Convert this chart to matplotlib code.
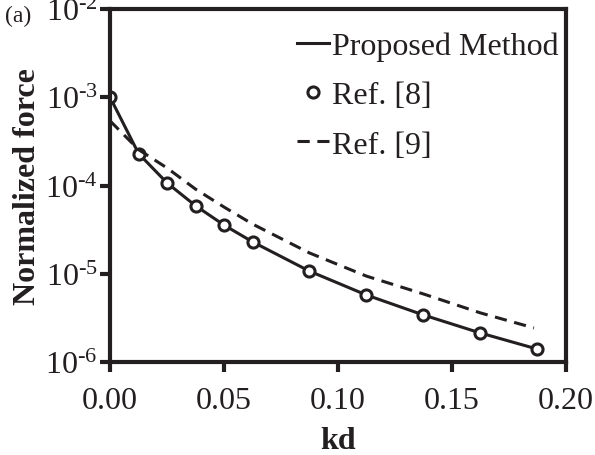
import math
import matplotlib
matplotlib.use("Agg")
import matplotlib.pyplot as plt
from matplotlib.ticker import FixedLocator, FuncFormatter, NullLocator

# -------------------------
# Data
# -------------------------
kd = [0.0, 0.0125, 0.025, 0.0375, 0.05, 0.0625, 0.0875, 0.1125, 0.1375, 0.1625, 0.1875]
proposed = [1.0e-3, 2.3e-4, 1.07e-4, 5.9e-5, 3.56e-5, 2.3e-5, 1.07e-5, 5.74e-6, 3.41e-6, 2.13e-6, 1.40e-6]
ref8 = [1.0e-3, 2.3e-4, 1.07e-4, 5.9e-5, 3.56e-5, 2.3e-5, 1.07e-5, 5.74e-6, 3.41e-6, 2.13e-6, 1.40e-6]
kd_ref9 = [0.0, 0.0125, 0.025, 0.0375, 0.05, 0.0625, 0.0875, 0.1125, 0.1375, 0.1625, 0.186]
ref9 = [5.4e-4, 2.55e-4, 1.58e-4, 9.1e-5, 5.7e-5, 3.66e-5, 1.72e-5, 9.4e-6, 5.9e-6, 3.6e-6, 2.43e-6]

xticks = [0.00, 0.05, 0.10, 0.15, 0.20]
yticks = [1e-6, 1e-5, 1e-4, 1e-3, 1e-2]

# -------------------------
# Style
# -------------------------
plt.rcParams["font.family"] = "Liberation Serif"
plt.rcParams["mathtext.fontset"] = "custom"
plt.rcParams["mathtext.rm"] = "Liberation Serif"
ink = "#231f20"


def pow_label(v, pos):
    # short hyphen in the exponent, like the original
    return r"$\mathregular{10^{\text{-}%d}}$" % abs(round(math.log10(v)))


fig = plt.figure(figsize=(5.95, 4.56), dpi=100)
ax = fig.add_axes([0.185, 0.204, 0.766, 0.774])

ax.plot(kd, proposed, color=ink, lw=2.2, label="Proposed Method")
ax.plot(kd, ref8, ls="none", marker="o", ms=8, mfc="white", mec=ink, mew=2.2,
        label="Ref. [8]")
ax.plot(kd_ref9, ref9, color=ink, lw=2.2, ls=(0, (4, 2.5)), label="Ref. [9]")

ax.set_yscale("log")
ax.set_xlim(0, 0.2)
ax.set_ylim(1e-6, 1e-2)
ax.xaxis.set_major_locator(FixedLocator(xticks))
ax.xaxis.set_major_formatter(FuncFormatter(lambda v, p: f"{v:.2f}"))
ax.yaxis.set_major_locator(FixedLocator(yticks))
ax.yaxis.set_minor_locator(NullLocator())
ax.yaxis.set_major_formatter(FuncFormatter(pow_label))

for s in ax.spines.values():
    s.set_linewidth(3)
    s.set_color(ink)
ax.tick_params(axis="both", direction="out", length=7, width=3, color=ink,
               labelsize=23, labelcolor=ink)
ax.tick_params(axis="x", pad=10)
ax.tick_params(axis="y", pad=2)

ax.set_xlabel("kd", fontsize=23, fontweight="bold", color=ink, labelpad=8)
ax.set_ylabel("Normalized force", fontsize=23, fontweight="bold", color=ink, labelpad=2.5)

ax.legend(loc="upper right", bbox_to_anchor=(1.013, 0.972), frameon=False, fontsize=23,
          handlelength=1.0, handletextpad=0.1, labelspacing=0.62, borderpad=0.3,
          borderaxespad=0.1, labelcolor=ink)

fig.text(0.008, 0.965, "(a)", fontsize=17, color=ink, va="center")

plt.savefig("out.png", dpi=100)
